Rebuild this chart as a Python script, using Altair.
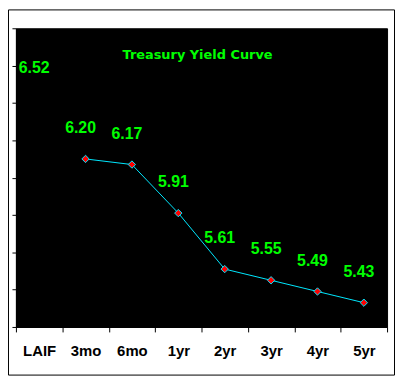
import altair as alt
import pandas as pd

categories = ["LAIF", "3mo", "6mo", "1yr", "2yr", "3yr", "4yr", "5yr"]
yields = [6.52, 6.20, 6.17, 5.91, 5.61, 5.55, 5.49, 5.43]
plotted = [False, True, True, True, True, True, True, True]
label_text = ["6.52", "6.20", "6.17", "5.91", "5.61", "5.55", "5.49", "5.43"]
y_ticks = [5.3, 5.5, 5.7, 5.9, 6.1, 6.3, 6.5, 6.7, 6.9]

df = pd.DataFrame({"term": categories, "yield": yields, "plotted": plotted, "label": label_text})

GREEN = "#00ff00"
CYAN = "#00e8ff"

x = alt.X("term:N", sort=categories, title=None,
          scale=alt.Scale(paddingInner=0, paddingOuter=0),
          axis=alt.Axis(labelAngle=0, tickBand="extent", tickSize=5, tickColor="black",
                        domainColor="black", labelFont="Liberation Sans", labelFontSize=15,
                        labelFontWeight="bold", labelColor="black", labelPadding=12, grid=False))
y = alt.Y("yield:Q", title=None,
          scale=alt.Scale(domain=[5.3, 6.9], zero=False, nice=False),
          axis=alt.Axis(values=y_ticks, labels=False, tickSize=4, tickColor="black",
                        domainColor="black", grid=False))

base = alt.Chart(df).encode(x=x, y=y)

line = base.transform_filter("datum.plotted").mark_line(color=CYAN, strokeWidth=1)
pts = base.transform_filter("datum.plotted").mark_point(
    shape="diamond", filled=True, fill="red", stroke=CYAN, strokeWidth=1, size=55, opacity=1)
labels = base.mark_text(font="Liberation Sans", fontSize=16, fontWeight="bold", color=GREEN,
                        dy=-31, dx=-5).encode(text="label:N")

border = alt.Chart(pd.DataFrame({"a": [0]})).mark_rect(
    fillOpacity=0, stroke="black", strokeWidth=1).encode(
    x=alt.value(-7.5), x2=alt.value(381.5), y=alt.value(-18.5), y2=alt.value(349.5))

chart = alt.layer(line, pts, labels, border).properties(
    width=374, height=301,
    title=alt.TitleParams("Treasury Yield Curve", font="DejaVu Sans", fontSize=13,
                          fontWeight="bold", color=GREEN, anchor="middle", offset=-53, dx=-4),
    autosize=alt.AutoSizeParams(type="none"),
    padding={"left": 8, "top": 19, "right": 8, "bottom": 49},
    background="white",
).configure_view(fill="black", stroke="black")

chart.save("out.html", embed_options={"renderer": "svg", "actions": False})
